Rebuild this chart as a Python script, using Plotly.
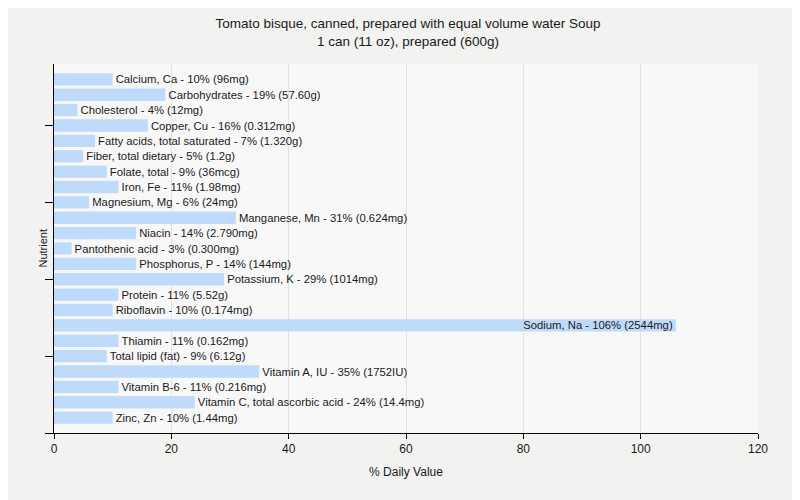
import plotly.graph_objects as go

nutrients = [
    "Calcium, Ca", "Carbohydrates", "Cholesterol", "Copper, Cu",
    "Fatty acids, total saturated", "Fiber, total dietary", "Folate, total",
    "Iron, Fe", "Magnesium, Mg", "Manganese, Mn", "Niacin", "Pantothenic acid",
    "Phosphorus, P", "Potassium, K", "Protein", "Riboflavin", "Sodium, Na",
    "Thiamin", "Total lipid (fat)", "Vitamin A, IU", "Vitamin B-6",
    "Vitamin C, total ascorbic acid", "Zinc, Zn",
]
daily_values = [10, 19, 4, 16, 7, 5, 9, 11, 6, 31, 14, 3, 14, 29, 11, 10, 106,
                11, 9, 35, 11, 24, 10]
amounts = ["96mg", "57.60g", "12mg", "0.312mg", "1.320g", "1.2g", "36mcg",
           "1.98mg", "24mg", "0.624mg", "2.790mg", "0.300mg", "144mg", "1014mg",
           "5.52g", "0.174mg", "2544mg", "0.162mg", "6.12g", "1752IU",
           "0.216mg", "14.4mg", "1.44mg"]

n = len(nutrients)
ypos = [n - 1 - i for i in range(n)]
labels = [f"{nm} - {v}% ({a})" for nm, v, a in zip(nutrients, daily_values, amounts)]
max_v = max(daily_values)
positions = ["inside" if v == max_v else "outside" for v in daily_values]

FONT = "Liberation Sans, Arial, sans-serif"

fig = go.Figure(go.Bar(
    x=daily_values, y=ypos, orientation="h",
    marker=dict(color="#bfdbfb", line=dict(width=0)),
    width=0.8,
    text=labels, textposition=positions, insidetextanchor="end",
    constraintext="none",
    textfont=dict(family=FONT, size=11.3, color="#1a1a1a"),
    cliponaxis=False, hoverinfo="skip",
))

fig.update_layout(
    width=800, height=500,
    paper_bgcolor="#f2f2f1", plot_bgcolor="#f8f8f8",
    margin=dict(l=46, r=50, t=56, b=75, autoexpand=False),
    title=dict(
        text="Tomato bisque, canned, prepared with equal volume water Soup<br>1 can (11 oz), prepared (600g)",
        x=0.5, xanchor="center", y=0.96, yanchor="top",
        font=dict(family=FONT, size=13.5, color="#1a1a1a"),
    ),
    font=dict(family=FONT, size=12, color="#1a1a1a"),
    showlegend=False,
    bargap=0.2,
    annotations=[dict(
        text="Nutrient", textangle=-90, xref="paper", yref="paper",
        x=-12 / 704, y=0.5, xanchor="center", yanchor="middle",
        showarrow=False, font=dict(family=FONT, size=11, color="#1a1a1a"),
    )],
)
fig.update_xaxes(
    range=[0, 120], dtick=20, tick0=0, automargin=False,
    showgrid=True, gridcolor="#e2e2e2", gridwidth=1,
    showline=True, linecolor="#000", linewidth=1,
    ticks="outside", ticklen=5, tickcolor="#000",
    zeroline=False,
    tickfont=dict(size=12),
    title=dict(text="% Daily Value", font=dict(size=12), standoff=12),
)
fig.update_yaxes(
    range=[-1, n], tick0=-1, dtick=5, automargin=False,
    showticklabels=False, showgrid=False, zeroline=False,
    showline=True, linecolor="#000", linewidth=1,
    ticks="outside", ticklen=8, tickcolor="#000",
)

fig.write_html("out.html")
